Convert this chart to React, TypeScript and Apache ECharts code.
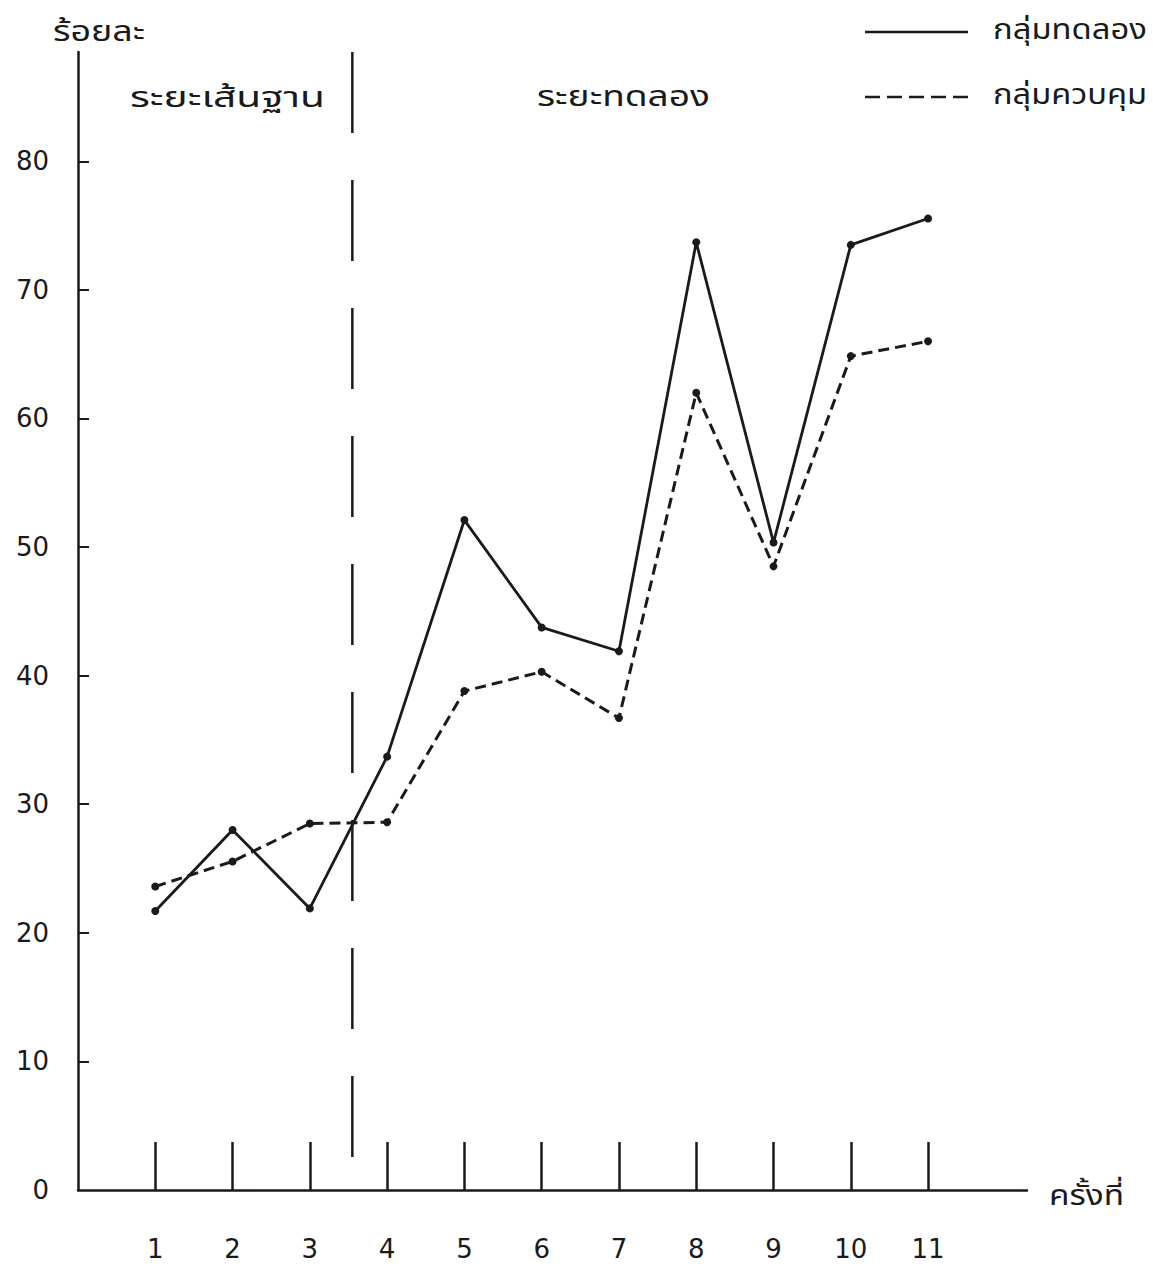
import React, { useEffect, useRef } from "react";
import * as echarts from "echarts";

// ---- data ----
const sessions = [1, 2, 3, 4, 5, 6, 7, 8, 9, 10, 11];
const experimentalGroup = [21.7, 28.0, 21.9, 33.7, 52.1, 43.75, 41.9, 73.7, 50.35, 73.5, 75.55];
const controlGroup = [23.6, 25.55, 28.5, 28.6, 38.8, 40.3, 36.7, 62.0, 48.5, 64.85, 66.0];
const yTickValues = [0, 10, 20, 30, 40, 50, 60, 70, 80];
const yTickMarks = [10, 20, 30, 40, 50, 60, 70, 80];
const phaseDividerX = 3.55;
const phaseDividerRange = [88.5, 2.2];

const seriesNames = ["กลุ่มทดลอง", "กลุ่มควบคุม"];
const yAxisTitle = "ร้อยละ";
const xAxisTitle = "ครั้งที่";
const phaseLabels = ["ระยะเส้นฐาน", "ระยะทดลอง"];

const THAI_FONT =
  "'Noto Sans Thai', 'Noto Sans Thai Looped', Loma, Garuda, TlwgTypo, Kinnari, 'DejaVu Sans', sans-serif";
const NUM_FONT = "'DejaVu Sans', sans-serif";
const INK = "#1a1a1a";

function measure(text: string, font: string): number {
  const c = document.createElement("canvas").getContext("2d");
  if (!c) return 0;
  c.font = font;
  return c.measureText(text).width;
}

export default function App() {
  const ref = useRef<HTMLDivElement>(null);

  useEffect(() => {
    if (!ref.current) return;
    const chart = echarts.init(ref.current, undefined, { renderer: "svg" });

    const toPairs = (vals: number[]) => sessions.map((s, i) => [s, vals[i]]);

    // text placed at (x, middle y) and stretched horizontally to the target width
    const thaiText = (text: string, x: number, y: number, targetW: number, size = 28) => {
      const font = `${size}px ${THAI_FONT}`;
      const w = measure(text, font);
      const sx = w > 0 ? targetW / w : 1;
      return {
        type: "text",
        x,
        y,
        scaleX: sx,
        style: { text, fill: INK, font, textVerticalAlign: "middle", verticalAlign: "middle" },
      };
    };

    chart.setOption({
      animation: false,
      backgroundColor: "#ffffff",
      grid: { left: 78, top: 52, width: 949, height: 1138 },
      xAxis: {
        type: "value",
        min: 0,
        max: 12.28,
        splitLine: { show: false },
        axisLine: { show: true, lineStyle: { color: INK, width: 2.5 } },
        axisTick: {
          show: true,
          inside: true,
          length: 48,
          customValues: sessions,
          lineStyle: { color: INK, width: 2.5 },
        },
        axisLabel: {
          customValues: sessions,
          margin: 48,
          lineHeight: 22,
          color: INK,
          fontSize: 26,
          fontFamily: NUM_FONT,
        },
      },
      yAxis: {
        type: "value",
        min: 0,
        max: 88.5,
        splitLine: { show: false },
        axisLine: { show: true, lineStyle: { color: INK, width: 2.5 } },
        axisTick: {
          show: true,
          inside: true,
          length: 11,
          customValues: yTickMarks,
          lineStyle: { color: INK, width: 2 },
        },
        axisLabel: {
          customValues: yTickValues,
          margin: 29,
          color: INK,
          fontSize: 26,
          fontFamily: NUM_FONT,
        },
      },
      series: [
        {
          name: seriesNames[0],
          type: "line",
          data: toPairs(experimentalGroup),
          symbol: "circle",
          symbolSize: 8,
          itemStyle: { color: INK },
          lineStyle: { color: INK, width: 2.8, type: "solid" },
        },
        {
          name: seriesNames[1],
          type: "line",
          data: toPairs(controlGroup),
          symbol: "circle",
          symbolSize: 8,
          itemStyle: { color: INK },
          lineStyle: { color: INK, width: 3, type: [11, 6] },
        },
        {
          name: "divider",
          type: "line",
          data: [
            [phaseDividerX, phaseDividerRange[0]],
            [phaseDividerX, phaseDividerRange[1]],
          ],
          showSymbol: false,
          symbol: "none",
          lineStyle: { color: INK, width: 2.5, type: [81, 47] },
          silent: true,
        },
      ],
      graphic: [
        thaiText(yAxisTitle, 53, 32, 92),
        thaiText(phaseLabels[0], 130, 99, 195),
        thaiText(phaseLabels[1], 537, 97, 173),
        thaiText(xAxisTitle, 1049, 1196, 75),
        {
          type: "line",
          shape: { x1: 865, y1: 32, x2: 968, y2: 32 },
          style: { stroke: INK, lineWidth: 2.5 },
        },
        thaiText(seriesNames[0], 993, 31, 154),
        {
          type: "line",
          shape: { x1: 865, y1: 97, x2: 968, y2: 97 },
          style: { stroke: INK, lineWidth: 2.5, lineDash: [15, 7] },
        },
        thaiText(seriesNames[1], 993, 96, 154),
      ],
    });

    return () => chart.dispose();
  }, []);

  return (
    <div
      ref={ref}
      style={{ position: "fixed", left: 0, top: 0, width: 1153, height: 1265, background: "#fff" }}
    />
  );
}
